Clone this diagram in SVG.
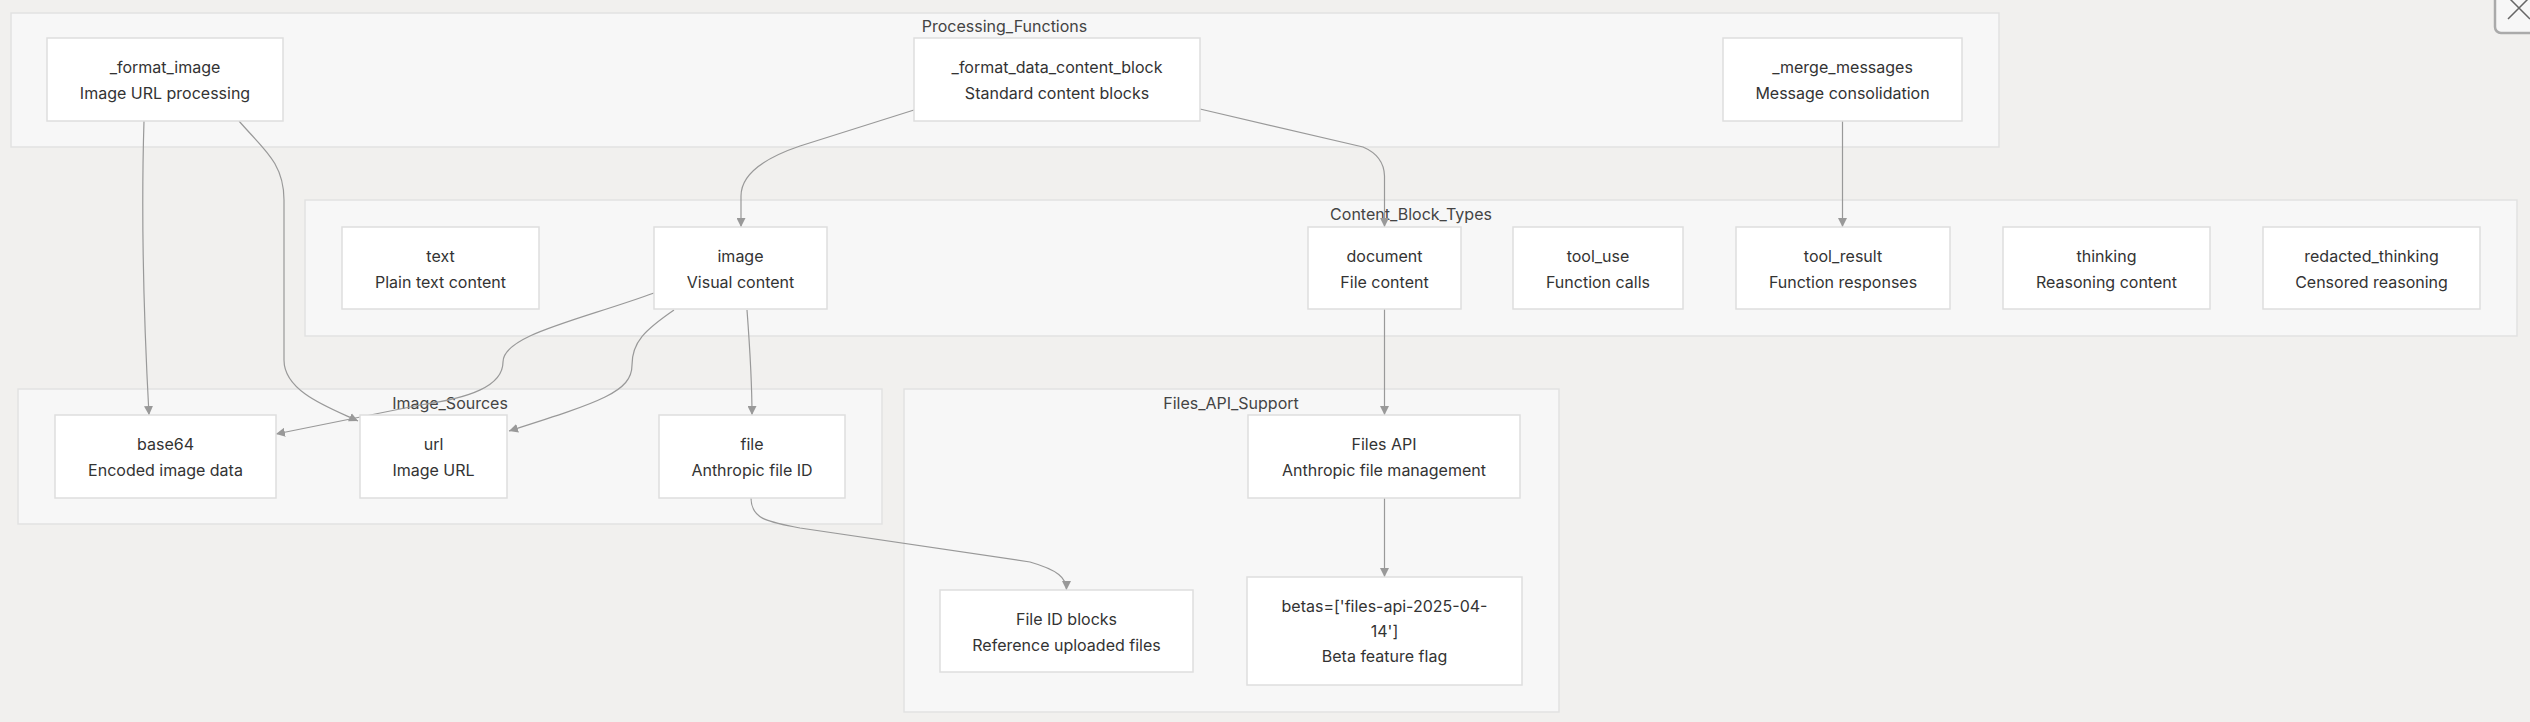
<svg xmlns="http://www.w3.org/2000/svg" width="2530" height="722" viewBox="0 0 2530 722">
<defs>
<marker id="arr" viewBox="0 0 10 10" refX="10" refY="5" markerWidth="9" markerHeight="9" markerUnits="userSpaceOnUse" orient="auto">
<path d="M0,0 L10,5 L0,10 z" fill="#999"/>
</marker>
<style>
.cl{fill:#f7f7f7;stroke:#e2e2e2;stroke-width:1.5}
.nd{fill:#ffffff;stroke:#dedede;stroke-width:1.5}
.t{font-family:Inter,"Liberation Sans",sans-serif;font-size:16px;fill:#333;text-anchor:middle;dominant-baseline:central}
.ct{font-family:Inter,"Liberation Sans",sans-serif;font-size:16px;fill:#444;text-anchor:middle;dominant-baseline:central}
.e{fill:none;stroke:#999;stroke-width:1.2;marker-end:url(#arr)}
</style>
</defs>
<rect width="2530" height="722" fill="#f1f0ee"/>
<g id="clusters">
<g id="Processing_Functions"><rect class="cl" x="11" y="13" width="1988" height="134"/><text class="ct" x="1004.5" y="26">Processing_Functions</text></g>
<g id="Content_Block_Types"><rect class="cl" x="305" y="200" width="2212" height="136"/><text class="ct" x="1411" y="214">Content_Block_Types</text></g>
<g id="Image_Sources"><rect class="cl" x="18" y="389" width="864" height="135"/><text class="ct" x="450" y="403">Image_Sources</text></g>
<g id="Files_API_Support"><rect class="cl" x="904" y="389" width="655" height="323"/><text class="ct" x="1231" y="403">Files_API_Support</text></g>
</g>
<g id="connectors">
<path class="e" d="M144,121 C140,250 146,360 149,415"/>
<path class="e" d="M239,121 C262,148 284,162 284,200 L284,360 C284,392 330,408 358,421"/>
<path class="e" d="M914,110 L800,146 Q741,166 741,196 L741,227"/>
<path class="e" d="M1200,109 L1363,147 Q1384,156 1384.5,176 L1384.5,227"/>
<path class="e" d="M1842.5,121 L1842.5,227"/>
<path class="e" d="M654,293 C580,320 503,335 503,362 C503,386 470,398 420,405 L276,434"/>
<path class="e" d="M674,310 C645,330 632,342 632,365 C632,392 600,402 509,431"/>
<path class="e" d="M747,310 C750,350 752,380 752,415"/>
<path class="e" d="M1384.5,309 L1384.5,415"/>
<path class="e" d="M1384.5,498 L1384.5,577"/>
<path class="e" d="M751,498 C751,520 770,522 800,528 L1030,562 C1058,570 1066.5,578 1066.5,590"/>
</g>
<g id="fimg"><rect class="nd" x="47" y="38" width="236" height="83"/><text class="t" x="165" y="67">_format_image</text><text class="t" x="165" y="93">Image URL processing</text></g>
<g id="fdcb"><rect class="nd" x="914" y="38" width="286" height="83"/><text class="t" x="1057" y="67">_format_data_content_block</text><text class="t" x="1057" y="93">Standard content blocks</text></g>
<g id="merge"><rect class="nd" x="1723" y="38" width="239" height="83"/><text class="t" x="1842.5" y="67">_merge_messages</text><text class="t" x="1842.5" y="93">Message consolidation</text></g>
<g id="text"><rect class="nd" x="342" y="227" width="197" height="82"/><text class="t" x="440.5" y="256">text</text><text class="t" x="440.5" y="282">Plain text content</text></g>
<g id="image"><rect class="nd" x="654" y="227" width="173" height="82"/><text class="t" x="740.5" y="256">image</text><text class="t" x="740.5" y="282">Visual content</text></g>
<g id="document"><rect class="nd" x="1308" y="227" width="153" height="82"/><text class="t" x="1384.5" y="256">document</text><text class="t" x="1384.5" y="282">File content</text></g>
<g id="tool_use"><rect class="nd" x="1513" y="227" width="170" height="82"/><text class="t" x="1598" y="256">tool_use</text><text class="t" x="1598" y="282">Function calls</text></g>
<g id="tool_result"><rect class="nd" x="1736" y="227" width="214" height="82"/><text class="t" x="1843" y="256">tool_result</text><text class="t" x="1843" y="282">Function responses</text></g>
<g id="thinking"><rect class="nd" x="2003" y="227" width="207" height="82"/><text class="t" x="2106.5" y="256">thinking</text><text class="t" x="2106.5" y="282">Reasoning content</text></g>
<g id="redacted_thinking"><rect class="nd" x="2263" y="227" width="217" height="82"/><text class="t" x="2371.5" y="256">redacted_thinking</text><text class="t" x="2371.5" y="282">Censored reasoning</text></g>
<g id="base64"><rect class="nd" x="55" y="415" width="221" height="83"/><text class="t" x="165.5" y="444">base64</text><text class="t" x="165.5" y="470">Encoded image data</text></g>
<g id="url"><rect class="nd" x="360" y="415" width="147" height="83"/><text class="t" x="433.5" y="444">url</text><text class="t" x="433.5" y="470">Image URL</text></g>
<g id="file"><rect class="nd" x="659" y="415" width="186" height="83"/><text class="t" x="752" y="444">file</text><text class="t" x="752" y="470">Anthropic file ID</text></g>
<g id="files_api"><rect class="nd" x="1248" y="415" width="272" height="83"/><text class="t" x="1384" y="444">Files API</text><text class="t" x="1384" y="470">Anthropic file management</text></g>
<g id="file_id_blocks"><rect class="nd" x="940" y="590" width="253" height="82"/><text class="t" x="1066.5" y="619">File ID blocks</text><text class="t" x="1066.5" y="645">Reference uploaded files</text></g>
<g id="betas"><rect class="nd" x="1247" y="577" width="275" height="108"/><text class="t" x="1384.5" y="606">betas=['files-api-2025-04-</text><text class="t" x="1384.5" y="631">14']</text><text class="t" x="1384.5" y="656">Beta feature flag</text></g>
<g id="close"><rect x="2495" y="-10" width="50" height="43" rx="6" fill="#f7f7f7" stroke="#aaa" stroke-width="2.5"/><path d="M2508,-3 L2530,19 M2508,19 L2530,-3" stroke="#666" stroke-width="1.5" fill="none"/></g>
</svg>
